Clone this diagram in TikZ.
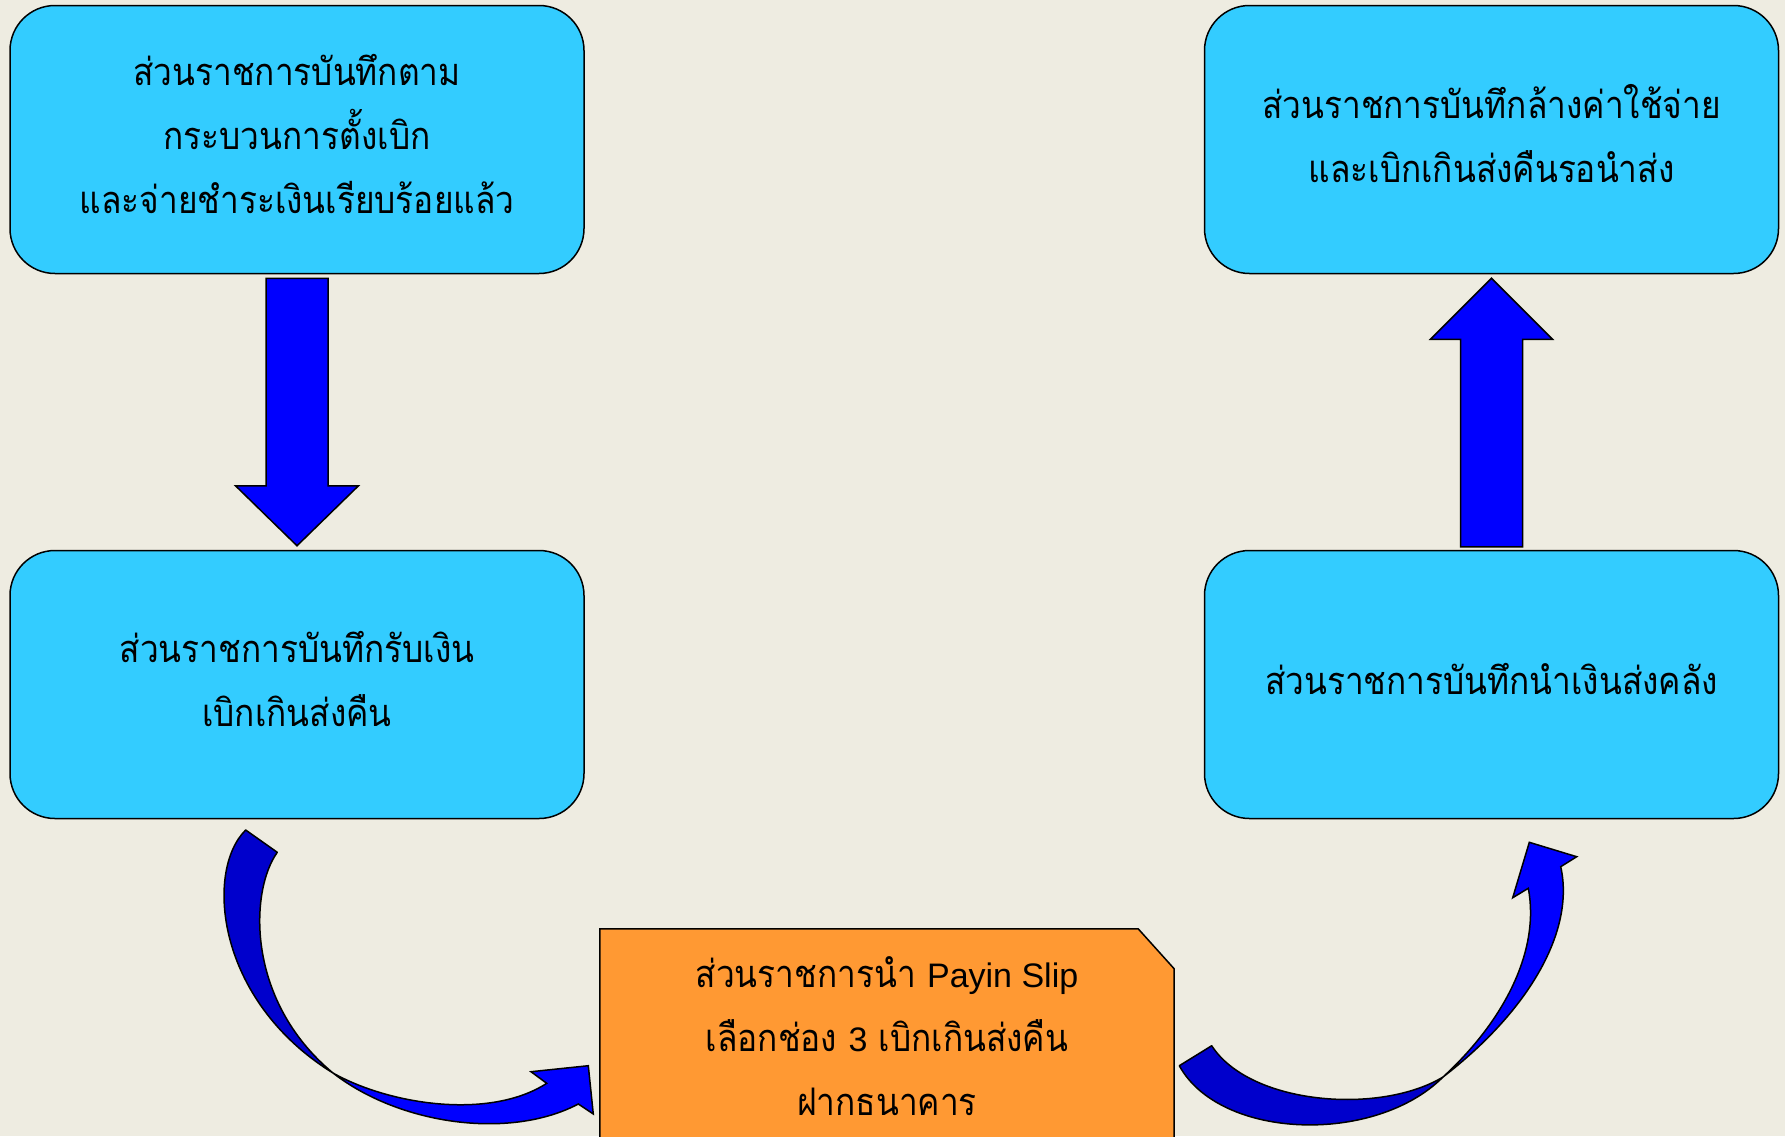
\documentclass[tikz,border=0pt]{standalone}
\usepackage{fontspec}
\setmainfont{Liberation Sans}
\newfontfamily\thaifont[Script=Thai,FakeStretch=0.88]{Loma}
\usetikzlibrary{calc}
\definecolor{paper}{HTML}{EEECE1}
\definecolor{sky}{HTML}{33CCFF}
\definecolor{peach}{HTML}{FF9933}
\definecolor{arrowblue}{HTML}{0000FF}
\definecolor{arrowdark}{HTML}{0000CC}
\tikzstyle{box}=[draw=black,line width=1.5pt,fill=sky,rounded corners=45pt,minimum width=574pt,minimum height=268pt,align=center,font=\thaifont\fontsize{38}{64}\selectfont]
\tikzstyle{note}=[minimum width=574pt,minimum height=221pt,align=center,font=\thaifont\fontsize{38}{64}\selectfont]
\tikzstyle{notefill}=[draw=black,line width=1.5pt,fill=peach]
\tikzstyle{blockarrow}=[draw=black,line width=1.5pt,fill=arrowblue,line join=miter]
\tikzstyle{blockarrowdark}=[draw=black,line width=1.5pt,fill=arrowdark,line join=round]
\newcommand{\latin}[1]{{\rmfamily\fontsize{34}{64}\selectfont #1}}
\newcommand{\lift}[1]{\rule[-#1]{0pt}{0pt}}
\pgfdeclarelayer{edgelayer}
\pgfdeclarelayer{nodelayer}
\pgfsetlayers{edgelayer,nodelayer,main}
\begin{document}
\begin{tikzpicture}[x=1pt,y=-1pt]
	\useasboundingbox (0,0) rectangle (1785,1136);
	\begin{pgfonlayer}{nodelayer}
		\node [style=box] (0) at (297, 139.5) {ส่วนราชการบันทึกตาม\\กระบวนการตั้งเบิก\\และจ่ายชำระเงินเรียบร้อยแล้ว\lift{12pt}};
		\node [style=box] (1) at (297, 684.5) {ส่วนราชการบันทึกรับเงิน\\เบิกเกินส่งคืน\lift{12pt}};
		\node [style=box] (2) at (1491.5, 139.5) {ส่วนราชการบันทึกล้างค่าใช้จ่าย\\และเบิกเกินส่งคืนรอนำส่ง\lift{12pt}};
		\node [style=box] (3) at (1491.5, 684.5) {ส่วนราชการบันทึกนำเงินส่งคลัง\lift{12pt}};
		\node [style=note] (4) at (887, 1039.5) {ส่วนราชการนำ \latin{Payin Slip}\\เลือกช่อง \latin{3} เบิกเกินส่งคืน\\ฝากธนาคาร\lift{7pt}};
	\end{pgfonlayer}
	\begin{pgfonlayer}{edgelayer}
		\fill [paper] (0,0) rectangle (1785,1136);
		\path [style=notefill] (4.south west) -- (4.north west) -- ($(4.north east)+(-36,0)$) -- ($(4.north east)+(0,40)$) -- (4.south east);

		% straight arrows, box to box
		\path [style=blockarrow] let \p1=(0.south), \p2=(1.north) in
			(\x1-31pt,\y1-4pt) -- (\x1+31pt,\y1-4pt) -- (\x1+31pt,\y2+64pt) -- (\x1+61.5pt,\y2+64pt)
			-- (\x1,\y2+4pt) -- (\x1-61.5pt,\y2+64pt) -- (\x1-31pt,\y2+64pt) -- cycle;
		\path [style=blockarrow] let \p1=(3.north), \p2=(2.south) in
			(\x1-31pt,\y1+3pt) -- (\x1+31pt,\y1+3pt) -- (\x1+31pt,\y2-65pt) -- (\x1+61pt,\y2-65pt)
			-- (\x1,\y2-4pt) -- (\x1-61pt,\y2-65pt) -- (\x1-31pt,\y2-65pt) -- cycle;

		% curved arrows: dark back half, then bright front half with the head
		\path [style=blockarrowdark] (245.7,830) .. controls (205,870) and (215,1000) .. (333,1073)
			.. controls (245,1000) and (250,890) .. (277.3,852.3) -- cycle;
		\path [style=blockarrow] (333,1073) .. controls (400,1125) and (510,1140) .. (578.3,1104)
			-- (593.3,1114) -- (588.3,1065.7) -- (531,1071.7) -- (546.7,1083.3)
			.. controls (490,1120) and (390,1105) .. (333,1073) -- cycle;
		\path [style=blockarrowdark] (1179.3,1065.7) .. controls (1220,1140) and (1375,1145) .. (1443,1077)
			.. controls (1380,1115) and (1250,1105) .. (1211.7,1045.7) -- cycle;
		\path [style=blockarrow] (1443,1077) .. controls (1530,1010) and (1575,930) .. (1560.7,866.7)
			-- (1576.7,856.7) -- (1529.3,842.3) -- (1512.7,897.7) -- (1528.3,888.3)
			.. controls (1540,950) and (1505,1020) .. (1443,1077) -- cycle;
	\end{pgfonlayer}
\end{tikzpicture}
\end{document}
